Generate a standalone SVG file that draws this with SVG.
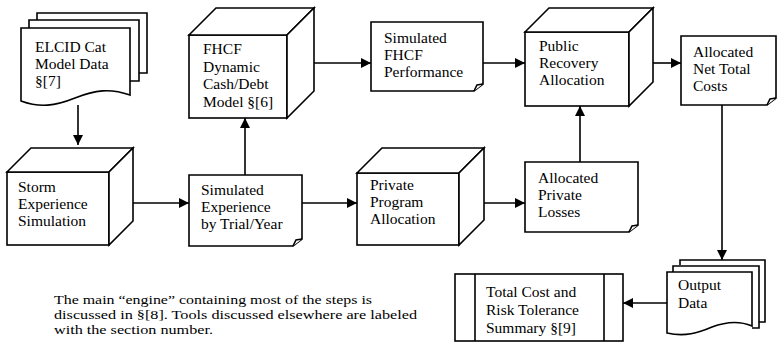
<svg xmlns="http://www.w3.org/2000/svg" width="777" height="343" viewBox="0 0 777 343">
<defs>
<marker id="ah" viewBox="0 0 10 10" refX="10" refY="5" markerWidth="10" markerHeight="10" markerUnits="userSpaceOnUse" orient="auto">
<path d="M0,0 L10,5 L0,10 Z" fill="#000"/>
</marker>
<style>
.s{fill:#fff;stroke:#000;stroke-width:1.6;stroke-linejoin:miter}
.t{font-family:"Liberation Serif","Times New Roman",serif;font-size:15.5px;fill:#000}
.n{font-family:"Liberation Serif","Times New Roman",serif;font-size:13px;fill:#000}
.c{fill:none;stroke:#000;stroke-width:1.6}
</style>
</defs>
<rect width="777" height="343" fill="#fff"/>

<g id="connectors">
<path class="c" d="M78,105 V145" marker-end="url(#ah)"/>
<path class="c" d="M133,203 H189" marker-end="url(#ah)"/>
<path class="c" d="M245,175 V118" marker-end="url(#ah)"/>
<path class="c" d="M314,63 H371" marker-end="url(#ah)"/>
<path class="c" d="M302,203 H357" marker-end="url(#ah)"/>
<path class="c" d="M484,203 H525" marker-end="url(#ah)"/>
<path class="c" d="M483,63 H525" marker-end="url(#ah)"/>
<path class="c" d="M580,162 V106" marker-end="url(#ah)"/>
<path class="c" d="M653,63 H681" marker-end="url(#ah)"/>
<path class="c" d="M722,105 V260" marker-end="url(#ah)"/>
<path class="c" d="M667,303 H623" marker-end="url(#ah)"/>
</g>

<g id="elcid">
<path class="s" d="M37,20 V13 H147 V73 H139"/>
<path class="s" d="M29,28 V20 H139 V81 H130"/>
<path class="s" d="M21,28 H130 V95 C110,88 95,90 75,98 C55,106 40,108 21,101 Z"/>
<text class="t" x="35" y="52">ELCID Cat</text>
<text class="t" x="35" y="69">Model Data</text>
<text class="t" x="35" y="86">§[7]</text>
</g>

<g id="storm">
<rect class="s" x="7" y="172" width="102" height="73"/>
<path class="s" d="M7,172 L31,148 H133 L109,172 Z"/>
<path class="s" d="M109,172 L133,148 V221 L109,245 Z"/>
<text class="t" x="18" y="192">Storm</text>
<text class="t" x="18" y="209">Experience</text>
<text class="t" x="18" y="226">Simulation</text>
</g>

<g id="simexp">
<path class="s" d="M189,175 H302 V239 L293,246 H189 Z"/>
<path class="s" d="M293,246 L296,240 L302,239"/>
<text class="t" x="201" y="195">Simulated</text>
<text class="t" x="201" y="212">Experience</text>
<text class="t" x="201" y="229">by Trial/Year</text>
</g>

<g id="fhcf">
<rect class="s" x="189" y="35" width="98" height="83"/>
<path class="s" d="M189,35 L216,8 H314 L287,35 Z"/>
<path class="s" d="M287,35 L314,8 V91 L287,118 Z"/>
<text class="t" x="203" y="54">FHCF</text>
<text class="t" x="203" y="71.5">Dynamic</text>
<text class="t" x="203" y="89">Cash/Debt</text>
<text class="t" x="203" y="106.5">Model §[6]</text>
</g>

<g id="simfhcf">
<path class="s" d="M371,22 H483 V84 L474,91 H371 Z"/>
<path class="s" d="M474,91 L477,85 L483,84"/>
<text class="t" x="384" y="43">Simulated</text>
<text class="t" x="384" y="60">FHCF</text>
<text class="t" x="384" y="77">Performance</text>
</g>

<g id="private">
<rect class="s" x="357" y="173" width="102" height="72"/>
<path class="s" d="M357,173 L382,148 H484 L459,173 Z"/>
<path class="s" d="M459,173 L484,148 V220 L459,245 Z"/>
<text class="t" x="370" y="190">Private</text>
<text class="t" x="370" y="207">Program</text>
<text class="t" x="370" y="224">Allocation</text>
</g>

<g id="allocpriv">
<path class="s" d="M525,162 H638 V225 L629,232 H525 Z"/>
<path class="s" d="M629,232 L632,226 L638,225"/>
<text class="t" x="538" y="183">Allocated</text>
<text class="t" x="538" y="200">Private</text>
<text class="t" x="538" y="217">Losses</text>
</g>

<g id="public">
<rect class="s" x="525" y="32" width="104" height="74"/>
<path class="s" d="M525,32 L549,8 H653 L629,32 Z"/>
<path class="s" d="M629,32 L653,8 V82 L629,106 Z"/>
<text class="t" x="539" y="51">Public</text>
<text class="t" x="539" y="68">Recovery</text>
<text class="t" x="539" y="85">Allocation</text>
</g>

<g id="allocnet">
<path class="s" d="M681,36 H776 V98 L767,105 H681 Z"/>
<path class="s" d="M767,105 L770,99 L776,98"/>
<text class="t" x="693" y="57">Allocated</text>
<text class="t" x="693" y="74">Net Total</text>
<text class="t" x="693" y="91">Costs</text>
</g>

<g id="output">
<path class="s" d="M680,265 V260 H765 V322 H759"/>
<path class="s" d="M673,272 V266 H759 V328 H752"/>
<path class="s" d="M667,272 H752 V326 C738,320 725,322 712,327 C698,333 685,337 667,333 Z"/>
<text class="t" x="678" y="290">Output</text>
<text class="t" x="678" y="308">Data</text>
</g>

<g id="totalcost">
<rect class="s" x="455" y="274" width="168" height="67"/>
<path class="c" d="M475,274 V341 M604,274 V341"/>
<text class="t" x="486" y="297">Total Cost and</text>
<text class="t" x="486" y="315">Risk Tolerance</text>
<text class="t" x="486" y="333">Summary §[9]</text>
</g>

<g id="note">
<text class="n" x="54" y="304" textLength="318" lengthAdjust="spacingAndGlyphs">The main “engine” containing most of the steps is</text>
<text class="n" x="54" y="319" textLength="363" lengthAdjust="spacingAndGlyphs">discussed in §[8].  Tools discussed elsewhere are labeled</text>
<text class="n" x="54" y="334" textLength="159" lengthAdjust="spacingAndGlyphs">with the section number.</text>
</g>
</svg>
